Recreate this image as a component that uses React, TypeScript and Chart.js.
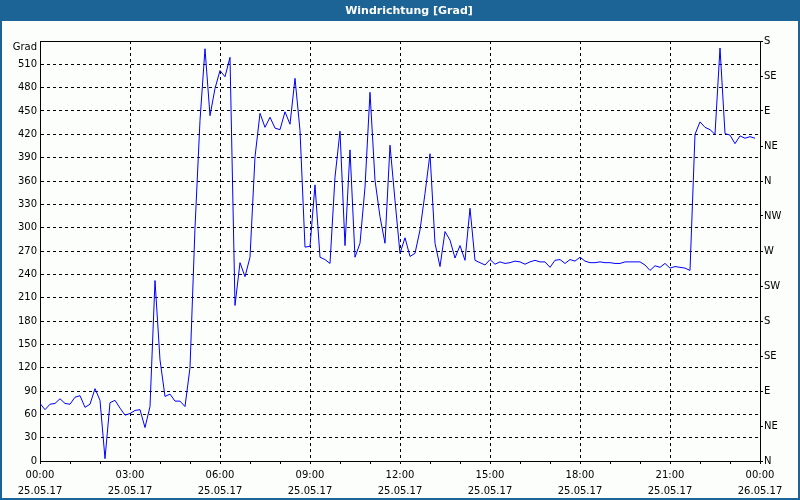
import React, { useEffect, useRef } from 'react';
import { Chart, registerables } from 'chart.js';

Chart.register(...registerables);

const chartTitle = 'Windrichtung [Grad]';
const yUnitLabel = 'Grad';
const timeLabels = ['00:00', '03:00', '06:00', '09:00', '12:00', '15:00', '18:00', '21:00', '00:00'];
const dateLabels = ['25.05.17', '25.05.17', '25.05.17', '25.05.17', '25.05.17', '25.05.17', '25.05.17', '25.05.17', '26.05.17'];
const directionLabels = ['N', 'NE', 'E', 'SE', 'S', 'SW', 'W', 'NW', 'N', 'NE', 'E', 'SE', 'S'];
const intervalMinutes = 10;
const windDirection = [
  74, 66, 73, 74, 80, 74, 73, 82, 84, 69,
  73, 93, 78, 3, 75, 78, 68, 59, 61, 65,
  66, 43, 70, 232, 130, 83, 86, 77, 77, 70,
  120, 300, 438, 530, 444, 479, 502, 494, 519, 200,
  255, 237, 262, 391, 447, 429, 442, 428, 426, 449,
  433, 492, 425, 275, 276, 355, 262, 259, 254, 365,
  424, 277, 400, 262, 280, 352, 474, 361, 314, 280,
  406, 335, 267, 287, 263, 267, 297, 344, 395, 280,
  250, 295, 284, 261, 277, 258, 325, 258, 255, 252,
  259, 253, 256, 254, 255, 257, 256, 253, 256, 258,
  256, 256, 249, 258, 259, 254, 259, 257, 262, 257,
  255, 255, 256, 255, 255, 254, 254, 256, 256, 256,
  256, 252, 245, 251, 249, 254, 248, 250, 249, 248,
  245, 420, 436, 429, 426, 420, 531, 421, 419, 408,
  418, 415, 417, 415,
];

const FONT = 'DejaVu Sans';
const BLUE = '#1d6496';

const framePlugin = {
  id: 'frame',
  beforeDraw(chart: any) {
    const { ctx, width, height } = chart;
    ctx.save();
    ctx.fillStyle = '#fcfefc';
    ctx.fillRect(0, 0, width, height);
    ctx.fillStyle = BLUE;
    ctx.fillRect(0, 0, width, 21);
    ctx.strokeStyle = BLUE;
    ctx.lineWidth = 2;
    ctx.strokeRect(1, 1, width - 2, height - 2);
    ctx.fillStyle = '#ffffff';
    ctx.font = `bold 11px "${FONT}"`;
    ctx.textAlign = 'center';
    ctx.textBaseline = 'middle';
    ctx.fillText(chartTitle, 409, 11);
    ctx.restore();
  },
  afterDraw(chart: any) {
    const { ctx, chartArea } = chart;
    ctx.save();
    ctx.strokeStyle = '#000';
    ctx.lineWidth = 1;
    ctx.beginPath();
    ctx.moveTo(chartArea.left, chartArea.top + 0.5);
    ctx.lineTo(chartArea.right, chartArea.top + 0.5);
    ctx.stroke();
    ctx.fillStyle = '#000';
    ctx.font = `10px "${FONT}"`;
    ctx.textAlign = 'right';
    ctx.textBaseline = 'middle';
    ctx.fillText(yUnitLabel, chartArea.left - 3, chartArea.top + 6);
    ctx.restore();
  },
};

export default function App() {
  const ref = useRef<HTMLCanvasElement>(null);
  useEffect(() => {
    document.body.style.margin = '0';
    const canvas = ref.current!;
    const tickFont = { family: FONT, size: 10, lineHeight: 1.6 };
    const chart = new Chart(canvas, {
      type: 'line',
      data: {
        datasets: [
          {
            data: windDirection.map((v, i) => ({ x: i * intervalMinutes, y: v })),
            borderColor: '#0000ff',
            borderWidth: 1,
            pointRadius: 0,
            tension: 0,
            fill: false,
            xAxisID: 'x',
            yAxisID: 'y',
          },
        ],
      },
      options: {
        animation: false,
        responsive: false,
        events: [],
        layout: { padding: { top: 41, left: 0, right: 0, bottom: 0 } },
        plugins: { legend: { display: false }, tooltip: { enabled: false }, title: { display: false } },
        scales: {
          x: {
            type: 'linear',
            position: 'bottom',
            min: 0,
            max: 1440,
            afterFit: (s: any) => { s.height = 39; },
            ticks: {
              stepSize: 60,
              autoSkip: false,
              maxRotation: 0,
              padding: 3,
              color: '#000',
              font: tickFont,
              callback: (v: any) => {
                const n = Number(v);
                return n % 180 === 0 ? [timeLabels[n / 180], dateLabels[n / 180]] : '';
              },
            },
            grid: {
              color: (c: any) => {
                const n = c.tick ? c.tick.value : 0;
                return n % 180 === 0 && n !== 0 && n !== 1440 ? '#000' : 'rgba(0,0,0,0)';
              },
              tickColor: '#000',
              tickLength: 3,
              lineWidth: 1,
            },
            border: { display: true, color: '#000', dash: [3, 3] },
          },
          y: {
            type: 'linear',
            position: 'left',
            min: 0,
            max: 540,
            afterFit: (s: any) => { s.width = 40; },
            ticks: {
              stepSize: 30,
              padding: 3,
              color: '#000',
              font: { family: FONT, size: 10 },
              callback: (v: any) => (Number(v) === 540 ? '' : String(v)),
            },
            grid: {
              drawTicks: false,
              color: (c: any) => {
                const n = c.tick ? c.tick.value : 0;
                return n !== 0 && n !== 540 ? '#000' : 'rgba(0,0,0,0)';
              },
              lineWidth: 1,
            },
            border: { display: true, color: '#000', dash: [3, 3] },
          },
          y2: {
            type: 'linear',
            position: 'right',
            min: 0,
            max: 540,
            afterFit: (s: any) => { s.width = 40; },
            ticks: {
              stepSize: 45,
              padding: 1,
              color: '#000',
              font: { family: FONT, size: 10 },
              callback: (v: any) => directionLabels[Math.round(Number(v) / 45)] ?? '',
            },
            grid: { drawOnChartArea: false, tickColor: '#000', tickLength: 3 },
            border: { display: true, color: '#000' },
          },
        },
      },
      plugins: [framePlugin],
    } as any);
    return () => chart.destroy();
  }, []);
  return (
    <div style={{ width: 800, height: 500 }}>
      <canvas ref={ref} width={800} height={500} style={{ display: 'block' }} />
    </div>
  );
}
